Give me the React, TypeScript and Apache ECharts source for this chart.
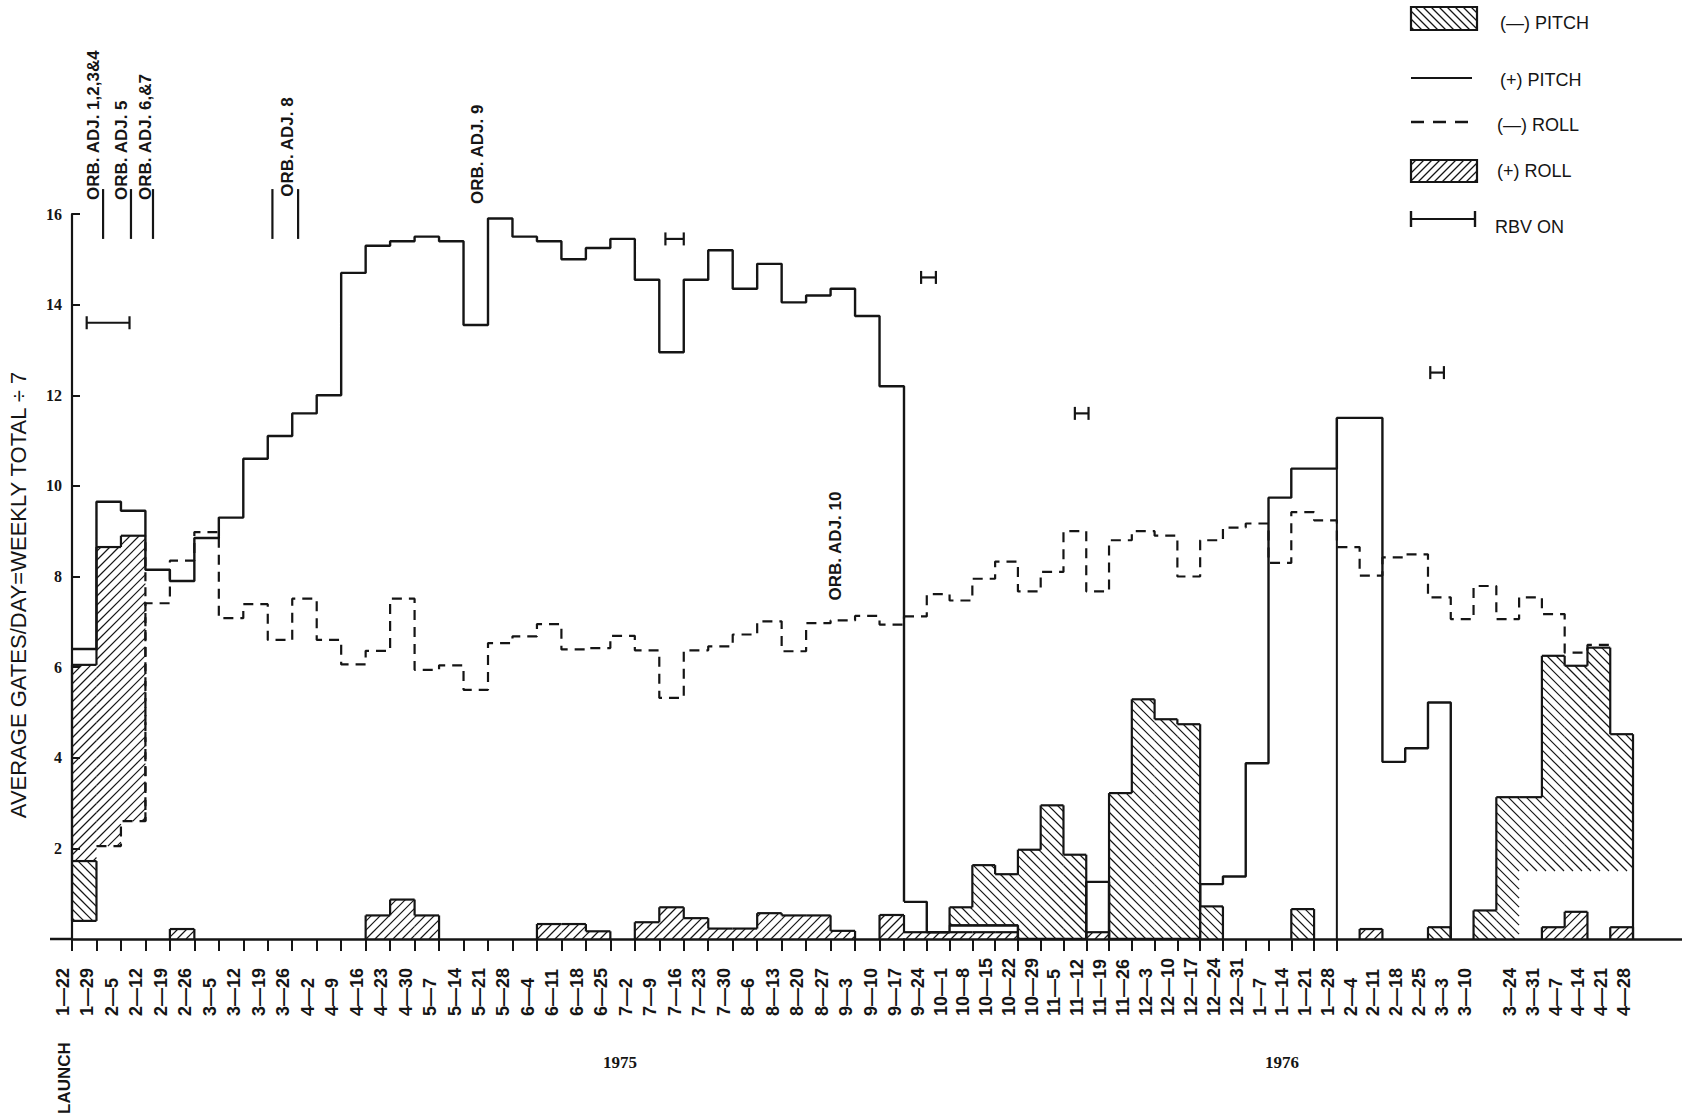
import React, { useEffect, useRef } from "react";
import * as echarts from "echarts";

// ---------- DATA ----------
const weekLabels = [
  "1-22","1-29","2-5","2-12","2-19","2-26","3-5","3-12","3-19","3-26","4-2","4-9","4-16","4-23","4-30",
  "5-7","5-14","5-21","5-28","6-4","6-11","6-18","6-25","7-2","7-9","7-16","7-23","7-30","8-6","8-13",
  "8-20","8-27","9-3","9-10","9-17","9-24","10-1","10-8","10-15","10-22","10-29","11-5","11-12","11-19",
  "11-26","12-3","12-10","12-17","12-24","12-31","1-7","1-14","1-21","1-28","2-4","2-11","2-18","2-25",
  "3-3","3-10","","3-24","3-31","4-7","4-14","4-21","4-28",
];

// (+) PITCH, solid step line, one value per week starting 1-22
const plusPitch = [
  6.4, 9.65, 9.45, 8.15, 7.9, 8.85, 9.3, 10.6, 11.1, 11.6, 12.0, 14.7, 15.3, 15.4, 15.5, 15.4, 13.55,
  15.9, 15.5, 15.4, 15.0, 15.25, 15.45, 14.55, 12.95, 14.55, 15.2, 14.35, 14.9, 14.05, 14.2, 14.35, 13.75,
  12.2, 0.82, 0.15, 0.3, 0.3, 0.3, 0, 0, 0, 1.26, 0, 0, 0, 0, 1.21, 1.38, 3.88, 9.74, 10.38, 10.38,
  11.5, 11.5, 3.91, 4.21, 5.22,
];

// (-) ROLL, dashed step line (week 0 has none)
const minusRoll = [
  null, 2.05, 2.6, 7.41, 8.35, 8.98, 7.08, 7.39, 6.6, 7.51, 6.6, 6.06, 6.36, 7.51, 5.94, 6.04, 5.5,
  6.53, 6.68, 6.95, 6.39, 6.42, 6.69, 6.37, 5.32, 6.37, 6.46, 6.72, 7.01, 6.35, 6.97, 7.03, 7.13, 6.94,
  7.12, 7.61, 7.47, 7.95, 8.33, 7.67, 8.1, 9.0, 7.67, 8.8, 9.0, 8.9, 8.0, 8.8, 9.08, 9.17, 8.3, 9.42,
  9.24, 8.65, 8.02, 8.42, 8.49, 7.54, 7.06, 7.79, 7.06, 7.54, 7.17, 6.32, 6.49,
];

// (+) ROLL hatched bars: [week, low, high]
const plusRollBars = [
  [0, 1.72, 6.05], [1, 2.05, 8.65], [2, 2.6, 8.9], [4, 0, 0.22],
  [12, 0, 0.52], [13, 0, 0.87], [14, 0, 0.52], [19, 0, 0.33], [20, 0, 0.33], [21, 0, 0.17],
  [23, 0, 0.37], [24, 0, 0.7], [25, 0, 0.46], [26, 0, 0.23], [27, 0, 0.23], [28, 0, 0.57],
  [29, 0, 0.52], [30, 0, 0.52], [31, 0, 0.18], [33, 0, 0.53], [34, 0, 0.15], [35, 0, 0.15],
  [36, 0, 0.15], [37, 0, 0.15], [38, 0, 0.15], [42, 0, 0.15], [54, 0, 0.22],
  [62, 0, 0.26], [63, 0, 0.6], [65, 0, 0.26],
];

// (-) PITCH hatched bars: [week, low, high, hatchFrom]
const minusPitchBars = [
  [0, 0.4, 1.72, 0.4],
  [36, 0.3, 0.7, 0.3], [37, 0.3, 1.63, 0.3], [38, 0.3, 1.43, 0.3], [39, 0, 1.97, 0], [40, 0, 2.95, 0],
  [41, 0, 1.86, 0], [43, 0, 3.22, 0], [44, 0, 5.29, 0], [45, 0, 4.85, 0], [46, 0, 4.74, 0],
  [47, 0, 0.72, 0], [51, 0, 0.66, 0], [57, 0, 0.26, 0], [59, 0, 0.63, 0], [60, 0, 3.13, 0],
  [61, 0, 3.13, 1.5], [62, 0, 6.25, 1.5], [63, 0, 6.03, 1.5], [64, 0, 6.43, 1.5], [65, 0, 4.52, 1.5],
];

// RBV ON intervals: [startWeek, endWeek, level]
const rbvOn = [
  [0.6, 2.35, 13.6], [24.25, 25.0, 15.45], [34.75, 35.4, 14.6], [41.5, 42.1, 11.6], [57.1, 57.7, 12.5],
];

// Orbit adjustment annotations
const orbAdjText = ["ORB. ADJ. 1,2,3&4", "ORB. ADJ. 5", "ORB. ADJ. 6,&7", "ORB. ADJ. 8", "ORB. ADJ. 9", "ORB. ADJ. 10"];
const orbAdjTextWeek = [1.22, 2.38, 3.35, 9.15, 16.92, 31.55];
const orbAdjTextLevel = [16.31, 16.31, 16.31, 16.38, 16.22, 7.47];
const orbAdjLineWeek = [1.27, 2.41, 3.31, 8.19, 9.24];
const orbAdjLineSpan = [15.45, 16.55];

// weeks whose left edge is drawn down to the baseline
const fullEdgeWeeks = [53];

const yTicks = [0, 2, 4, 6, 8, 10, 12, 14, 16];

// ---------- LAYOUT / STYLE ----------
const INK = "#151515";
const SANS = '"Liberation Sans", Arial, sans-serif';
const SERIF = '"Liberation Serif", "DejaVu Serif", serif';
const SPLIT = 34;
const X2_MAX = 68.15;
const G1 = { left: 72, top: 214, width: 832, height: 725 };
const G2 = { left: 904, top: 214, width: 778, height: 725 };
const HATCH = 9;

function hatchSegments(x0: number, y0: number, x1: number, y1: number, dir: number, s: number) {
  const segs: number[][] = [];
  if (y1 - y0 < 0.5 || x1 - x0 < 0.5) return segs;
  if (dir > 0) {
    const cMin = x0 + y0, cMax = x1 + y1;
    for (let c = Math.ceil(cMin / s) * s; c <= cMax; c += s) {
      const xa = Math.max(x0, c - y1), xb = Math.min(x1, c - y0);
      if (xb - xa > 0.4) segs.push([xa, c - xa, xb, c - xb]);
    }
  } else {
    const cMin = y0 - x1, cMax = y1 - x0;
    for (let c = Math.ceil(cMin / s) * s; c <= cMax; c += s) {
      const xa = Math.max(x0, y0 - c), xb = Math.min(x1, y1 - c);
      if (xb - xa > 0.4) segs.push([xa, xa + c, xb, xb + c]);
    }
  }
  return segs;
}

function lineEl(x1: number, y1: number, x2: number, y2: number, w: number, dash?: number[]) {
  const style: any = { stroke: INK, lineWidth: w };
  if (dash) style.lineDash = dash;
  return { type: "line", shape: { x1, y1, x2, y2 }, style, silent: true };
}

function barItems(bars: number[][]) {
  const map = new Map<number, number[]>();
  bars.forEach((b) => map.set(b[0], b));
  return bars.map((b) => {
    const prev = map.get(b[0] - 1);
    const next = map.get(b[0] + 1);
    return [b[0], b[1], b[2], b.length > 3 ? b[3] : b[1], prev ? prev[2] : -1, next ? next[2] : -1];
  });
}

function makeBarRender(dir: number, drawBottom: boolean, dashedFloatRight: boolean) {
  return (_params: any, api: any) => {
    const wk = api.value(0), lo = api.value(1), hi = api.value(2), hlo = api.value(3);
    const pH = api.value(4), nH = api.value(5);
    const tl = api.coord([wk, hi]);
    const br = api.coord([wk + 1, lo]);
    const hb = api.coord([wk + 1, hlo]);
    const yOf = (v: number) => api.coord([wk, v])[1];
    const x0 = tl[0], x1 = br[0], yT = tl[1], yB = br[1], yH = hb[1];
    const children: any[] = [];
    hatchSegments(x0, yT, x1, yH, dir, HATCH).forEach((s) => children.push(lineEl(s[0], s[1], s[2], s[3], 1.2)));
    children.push(lineEl(x0, yT, x1, yT, 2.2));
    if (pH < 0) children.push(lineEl(x0, yB, x0, yT, 2.2));
    else if (hi > pH) children.push(lineEl(x0, yOf(Math.max(pH, lo)), x0, yT, 2.2));
    if (nH < 0) children.push(lineEl(x1, yB, x1, yT, 2.2, dashedFloatRight && lo > 0 ? [9, 6] : undefined));
    else if (hi > nH) children.push(lineEl(x1, yOf(Math.max(nH, lo)), x1, yT, 2.2));
    if (drawBottom && lo > 0) children.push(lineEl(x0, yB, x1, yB, 2.2));
    return { type: "group", children };
  };
}

function stepData(values: (number | null)[], from: number, to: number, endValue?: number) {
  const pts: number[][] = [];
  for (let i = from; i < to; i++) {
    const v = values[i];
    if (v !== null && v !== undefined) pts.push([i, v as number]);
  }
  const last = values[to];
  if (last !== null && last !== undefined && to < values.length) pts.push([to, last as number]);
  else if (endValue !== undefined) pts.push([to, endValue]);
  return pts;
}

export default function App() {
  const ref = useRef<HTMLDivElement>(null);

  useEffect(() => {
    if (!ref.current) return;
    const chart = echarts.init(ref.current, null, { renderer: "svg" });

    const xLabel = (lim: number) => (v: number) =>
      Number.isInteger(v) && v < lim && weekLabels[v] ? weekLabels[v].replace("-", "\u2014") : "";

    const xAxisBase = {
      type: "value",
      interval: 1,
      axisLine: { show: true, onZero: false, lineStyle: { color: INK, width: 2.5 } },
      axisTick: { show: true, inside: false, length: 12, lineStyle: { color: INK, width: 2 } },
      splitLine: { show: false },
      axisLabel: {
        rotate: 90,
        align: "left",
        verticalAlign: "bottom",
        margin: 77,
        color: INK,
        fontFamily: SANS,
        fontWeight: "bold",
        fontSize: 18,
      },
    };

    const yAxisBase = {
      type: "value",
      min: 0,
      max: 16,
      interval: 2,
      splitLine: { show: false },
    };

    const plusRollItems = barItems(plusRollBars);
    const minusPitchItems = barItems(minusPitchBars);

    const series: any[] = [];
    [0, 1].forEach((g) => {
      const inGrid = (w: number) => (g === 0 ? w < SPLIT : w >= SPLIT);
      series.push({
        type: "custom",
        name: "(+) ROLL",
        xAxisIndex: g,
        yAxisIndex: g,
        data: plusRollItems.filter((b) => inGrid(b[0])),
        renderItem: makeBarRender(1, false, true),
        z: 2,
        silent: true,
      });
      series.push({
        type: "custom",
        name: "(-) PITCH",
        xAxisIndex: g,
        yAxisIndex: g,
        data: minusPitchItems.filter((b) => inGrid(b[0])),
        renderItem: makeBarRender(-1, true, false),
        z: 2,
        silent: true,
      });
      series.push({
        type: "custom",
        name: "RBV ON",
        xAxisIndex: g,
        yAxisIndex: g,
        data: rbvOn.filter((r) => inGrid(r[0])),
        renderItem: (_p: any, api: any) => {
          const a = api.coord([api.value(0), api.value(2)]);
          const b = api.coord([api.value(1), api.value(2)]);
          return {
            type: "group",
            children: [
              lineEl(a[0], a[1], b[0], b[1], 2.2),
              lineEl(a[0], a[1] - 6.5, a[0], a[1] + 6.5, 2.2),
              lineEl(b[0], b[1] - 6.5, b[0], b[1] + 6.5, 2.2),
            ],
          };
        },
        z: 4,
        silent: true,
      });
    });

    // step lines
    series.push({
      type: "line", name: "(+) PITCH", xAxisIndex: 0, yAxisIndex: 0,
      data: stepData(plusPitch, 0, SPLIT), step: "end", symbol: "none", clip: false,
      lineStyle: { color: INK, width: 2.4 }, z: 5, silent: true,
    });
    series.push({
      type: "line", name: "(+) PITCH", xAxisIndex: 1, yAxisIndex: 1,
      data: stepData(plusPitch, SPLIT, plusPitch.length, 0), step: "end", symbol: "none", clip: false,
      lineStyle: { color: INK, width: 2.4 }, z: 5, silent: true,
    });
    series.push({
      type: "line", name: "(-) ROLL", xAxisIndex: 0, yAxisIndex: 0,
      data: stepData(minusRoll, 1, SPLIT), step: "end", symbol: "none", clip: false,
      lineStyle: { color: INK, width: 2.2, type: [10, 7] }, z: 5, silent: true,
    });
    const lastRoll = minusRoll[minusRoll.length - 1] as number;
    series.push({
      type: "line", name: "(-) ROLL", xAxisIndex: 1, yAxisIndex: 1,
      data: stepData(minusRoll, SPLIT, minusRoll.length, lastRoll), step: "end", symbol: "none", clip: false,
      lineStyle: { color: INK, width: 2.2, type: [10, 7] }, z: 5, silent: true,
    });

    // full-height edge at 1-28
    series.push({
      type: "custom", xAxisIndex: 1, yAxisIndex: 1,
      data: fullEdgeWeeks.map((w) => [w, 0, plusPitch[w]]),
      renderItem: (_p: any, api: any) => {
        const a = api.coord([api.value(0), api.value(1)]);
        const b = api.coord([api.value(0), api.value(2)]);
        return lineEl(a[0], a[1], b[0], b[1], 2);
      },
      z: 5, silent: true,
    });

    // orbit adjustment lines and texts
    series.push({
      type: "custom", xAxisIndex: 0, yAxisIndex: 0,
      data: orbAdjLineWeek.map((w) => [w, orbAdjLineSpan[0], orbAdjLineSpan[1]]),
      renderItem: (_p: any, api: any) => {
        const a = api.coord([api.value(0), api.value(1)]);
        const b = api.coord([api.value(0), api.value(2)]);
        return lineEl(a[0], a[1], b[0], b[1], 2.2);
      },
      z: 5, silent: true,
    });
    series.push({
      type: "custom", xAxisIndex: 0, yAxisIndex: 0,
      data: orbAdjText.map((_t, i) => [orbAdjTextWeek[i], orbAdjTextLevel[i], i]),
      renderItem: (_p: any, api: any) => {
        const p = api.coord([api.value(0), api.value(1)]);
        return {
          type: "text",
          x: p[0],
          y: p[1],
          rotation: Math.PI / 2,
          silent: true,
          style: {
            text: orbAdjText[api.value(2)],
            fill: INK,
            fontFamily: SANS,
            fontWeight: "bold",
            fontSize: 17,
            align: "left",
            verticalAlign: "bottom",
          },
        };
      },
      z: 6, silent: true,
    });

    // legend graphics
    const legendX = 1411;
    const legendW = 66;
    const gfx: any[] = [];
    const hatchRect = (y: number, h: number, dir: number) => {
      gfx.push({ type: "rect", shape: { x: legendX, y, width: legendW, height: h }, style: { fill: "none", stroke: INK, lineWidth: 2.2 } });
      hatchSegments(legendX, y, legendX + legendW, y + h, dir, 8).forEach((s) =>
        gfx.push({ type: "line", shape: { x1: s[0], y1: s[1], x2: s[2], y2: s[3] }, style: { stroke: INK, lineWidth: 1.2 } })
      );
    };
    const legendText = (text: string, x: number, y: number) =>
      gfx.push({ type: "text", x, y, style: { text, fill: INK, fontFamily: SANS, fontSize: 18, align: "left", verticalAlign: "middle" } });

    hatchRect(7, 23, -1);
    legendText("(\u2014) PITCH", 1500, 23);
    gfx.push({ type: "line", shape: { x1: legendX, y1: 78, x2: legendX + 61, y2: 78 }, style: { stroke: INK, lineWidth: 2 } });
    legendText("(+) PITCH", 1500, 80);
    gfx.push({ type: "line", shape: { x1: legendX, y1: 122, x2: legendX + legendW, y2: 122 }, style: { stroke: INK, lineWidth: 2.4, lineDash: [13, 9] } });
    legendText("(\u2014) ROLL", 1497, 125);
    hatchRect(160, 22, 1);
    legendText("(+) ROLL", 1497, 171);
    gfx.push({ type: "line", shape: { x1: legendX, y1: 219, x2: legendX + 64, y2: 219 }, style: { stroke: INK, lineWidth: 2.2 } });
    gfx.push({ type: "line", shape: { x1: legendX, y1: 211, x2: legendX, y2: 227 }, style: { stroke: INK, lineWidth: 2.4 } });
    gfx.push({ type: "line", shape: { x1: legendX + 64, y1: 211, x2: legendX + 64, y2: 227 }, style: { stroke: INK, lineWidth: 2.4 } });
    legendText("RBV ON", 1495, 227);

    // axis decorations and titles
    gfx.push({ type: "line", shape: { x1: 50, y1: 939, x2: 72, y2: 939 }, style: { stroke: INK, lineWidth: 2.5 } });
    gfx.push({
      type: "text", x: 18, y: 595, rotation: Math.PI / 2,
      style: { text: "AVERAGE GATES/DAY=WEEKLY TOTAL \u00f7 7", fill: INK, fontFamily: SANS, fontSize: 22, align: "center", verticalAlign: "middle" },
    });
    gfx.push({
      type: "text", x: 64, y: 1078, rotation: Math.PI / 2,
      style: { text: "LAUNCH", fill: INK, fontFamily: SANS, fontWeight: "bold", fontSize: 17, align: "center", verticalAlign: "middle" },
    });
    gfx.push({
      type: "text", x: 620, y: 1062,
      style: { text: "1975", fill: INK, fontFamily: SERIF, fontWeight: "bold", fontSize: 17, align: "center", verticalAlign: "middle" },
    });
    gfx.push({
      type: "text", x: 1282, y: 1062,
      style: { text: "1976", fill: INK, fontFamily: SERIF, fontWeight: "bold", fontSize: 17, align: "center", verticalAlign: "middle" },
    });

    const option: any = {
      animation: false,
      backgroundColor: "#ffffff",
      grid: [
        { ...G1, containLabel: false },
        { ...G2, containLabel: false },
      ],
      xAxis: [
        { ...xAxisBase, gridIndex: 0, min: 0, max: SPLIT, axisLabel: { ...xAxisBase.axisLabel, formatter: xLabel(SPLIT) } },
        {
          ...xAxisBase, gridIndex: 1, min: SPLIT, max: X2_MAX,
          axisTick: { ...xAxisBase.axisTick, customValues: weekLabels.map((_l, i) => i).filter((i) => i >= SPLIT && i <= 53) },
          axisLabel: { ...xAxisBase.axisLabel, formatter: xLabel(weekLabels.length) },
        },
      ],
      yAxis: [
        {
          ...yAxisBase, gridIndex: 0,
          axisLine: { show: true, onZero: false, lineStyle: { color: INK, width: 2.2 } },
          axisTick: { show: true, inside: true, length: 8, lineStyle: { color: INK, width: 2 }, customValues: yTicks.filter((t) => t > 0) },
          axisLabel: {
            margin: 10, color: INK, fontFamily: SERIF, fontWeight: "bold", fontSize: 16,
            formatter: (v: number) => (v === 0 ? "" : String(v)),
          },
        },
        { ...yAxisBase, gridIndex: 1, show: false },
      ],
      graphic: { elements: gfx },
      series,
    };

    chart.setOption(option);
    return () => chart.dispose();
  }, []);

  return (
    <div
      ref={ref}
      style={{ position: "fixed", left: 0, top: 0, width: 1682, height: 1117, background: "#fff" }}
    />
  );
}
